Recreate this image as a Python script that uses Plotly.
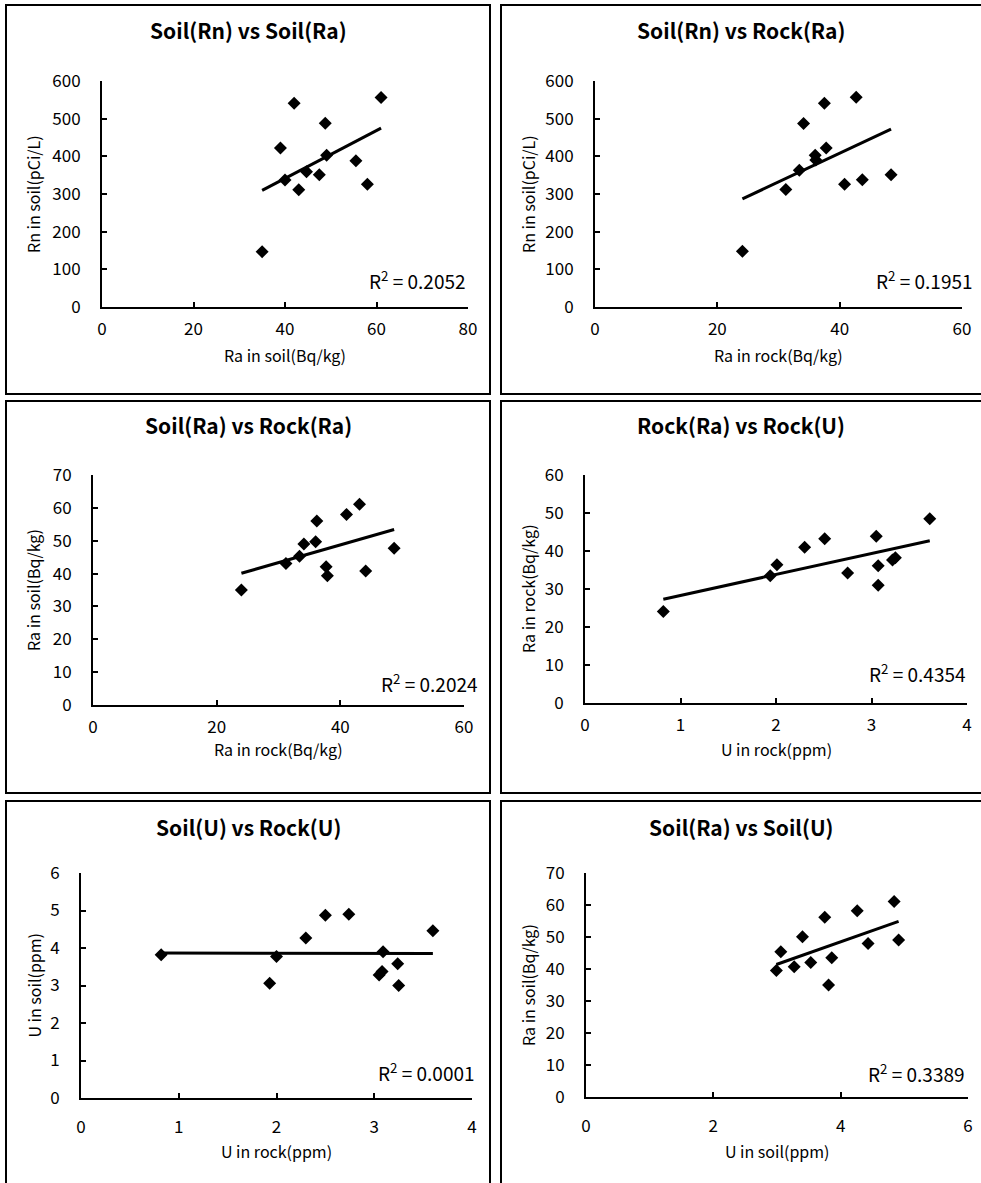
import numpy as np
import plotly.graph_objects as go

W, H = 981, 1183

# ---------------- data ----------------
p1_ra_soil = [35, 42, 39, 40, 43, 44.7, 47.5, 48.8, 49.1, 55.5, 58, 61]
p1_rn_soil = [147, 541, 422, 337, 311, 359, 351, 488, 403, 388, 326, 556]

p2_ra_rock = [24.1, 31.2, 33.4, 34.1, 36.0, 36.1, 37.5, 37.8, 40.8, 42.7, 43.7, 48.4]
p2_rn_soil = [148, 312, 363, 487, 403, 390, 541, 422, 326, 557, 338, 351]

p3_ra_rock = [24, 31.2, 33.4, 34.1, 36.0, 36.2, 37.7, 37.9, 41.0, 43.1, 44.1, 48.7]
p3_ra_soil = [35, 43.1, 45.3, 49.0, 49.7, 56.0, 42.1, 39.3, 58.0, 61.1, 40.8, 47.7]

p4_u_rock = [0.82, 1.94, 2.01, 2.30, 2.51, 2.75, 3.05, 3.07, 3.07, 3.22, 3.25, 3.61]
p4_ra_rock = [24.1, 33.5, 36.4, 41.0, 43.2, 34.2, 43.9, 36.1, 31.0, 37.6, 38.2, 48.5]

p5_u_rock = [0.82, 1.93, 2.00, 2.30, 2.50, 2.74, 3.05, 3.08, 3.09, 3.24, 3.25, 3.60]
p5_u_soil = [3.82, 3.06, 3.77, 4.27, 4.87, 4.90, 3.28, 3.37, 3.90, 3.58, 3.00, 4.46]

p6_u_soil = [2.99, 3.06, 3.27, 3.40, 3.53, 3.75, 3.81, 3.86, 4.26, 4.43, 4.84, 4.91]
p6_ra_soil = [39.5, 45.4, 40.7, 50.1, 42.0, 56.2, 35.0, 43.5, 58.2, 48.0, 61.1, 49.1]

titles = ["Soil(Rn) vs Soil(Ra)", "Soil(Rn) vs Rock(Ra)", "Soil(Ra) vs Rock(Ra)",
          "Rock(Ra) vs Rock(U)", "Soil(U) vs Rock(U)", "Soil(Ra) vs Soil(U)"]
x_titles = ["Ra in soil(Bq/kg)", "Ra in rock(Bq/kg)", "Ra in rock(Bq/kg)",
            "U in rock(ppm)", "U in rock(ppm)", "U in soil(ppm)"]
y_titles = ["Rn in soil(pCi/L)", "Rn in soil(pCi/L)", "Ra in soil(Bq/kg)",
            "Ra in rock(Bq/kg)", "U in soil(ppm)", "Ra in soil(Bq/kg)"]
r2_labels = ["0.2052", "0.1951", "0.2024", "0.4354", "0.0001", "0.3389"]
x_ranges = [(0, 80, 20), (0, 60, 20), (0, 60, 20), (0, 4, 1), (0, 4, 1), (0, 6, 2)]
y_ranges = [(0, 600, 100), (0, 600, 100), (0, 70, 10), (0, 60, 10), (0, 6, 1), (0, 70, 10)]

series = [(p1_ra_soil, p1_rn_soil), (p2_ra_rock, p2_rn_soil), (p3_ra_rock, p3_ra_soil),
          (p4_u_rock, p4_ra_rock), (p5_u_rock, p5_u_soil), (p6_u_soil, p6_ra_soil)]

# ---------------- layout geometry (pixels) ----------------
# plot areas: x0, x1, ytop, ybottom
areas = [(102, 468, 81, 307), (595, 962, 81, 307),
         (93, 464, 475, 705), (585, 967, 475, 703),
         (81, 472, 873, 1098), (586, 968, 873, 1097)]
boxes_x = [(6, 490), (501, 990)]
boxes_y = [(5, 394), (401, 793), (801, 1195)]
title_y = [30, 425, 827]
xtitle_y = [355, 749, 1151]
xtick_standoff = [6, 6, 13]
ytitle_x = [33, 528]
r2_pos = [(468, 280), (975, 280), (480, 683), (968, 673), (477, 1072), (967, 1073)]

FONT = "Noto Sans CJK KR"

def px(x):
    return x / W

def py(y):
    return 1 - y / H

fig = go.Figure()

for i in range(6):
    ax = "" if i == 0 else str(i + 1)
    xs, ys = series[i]
    fig.add_trace(go.Scatter(x=xs, y=ys, mode="markers",
                             marker=dict(symbol="diamond", size=10, color="black"),
                             xaxis="x" + ax, yaxis="y" + ax, showlegend=False))
    slope, inter = np.polyfit(xs, ys, 1)
    lx = [min(xs), max(xs)]
    ly = [slope * v + inter for v in lx]
    fig.add_trace(go.Scatter(x=lx, y=ly, mode="lines",
                             line=dict(color="black", width=3),
                             xaxis="x" + ax, yaxis="y" + ax, showlegend=False))
    x0, x1, yt, yb = areas[i]
    xr, yr = x_ranges[i], y_ranges[i]
    row = i // 2
    fig.layout["xaxis" + ax] = dict(
        domain=[px(x0), px(x1)], range=[xr[0], xr[1]], dtick=xr[2], tick0=0,
        anchor="y" + ax, showline=True, linecolor="black", linewidth=2,
        ticks="inside", ticklen=5, tickwidth=1.5, tickcolor="black",
        showgrid=False, zeroline=False, fixedrange=True, automargin=False,
        ticklabelstandoff=xtick_standoff[row],
        tickfont=dict(family=FONT, size=17, color="black"))
    fig.layout["yaxis" + ax] = dict(
        domain=[py(yb), py(yt)], range=[yr[0], yr[1]], dtick=yr[2], tick0=0,
        anchor="x" + ax, showline=True, linecolor="black", linewidth=2,
        ticks="inside", ticklen=5, tickwidth=1.5, tickcolor="black",
        showgrid=False, zeroline=False, fixedrange=True, automargin=False,
        ticklabelstandoff=16,
        tickfont=dict(family=FONT, size=17, color="black"))

    col = i % 2
    bx0, bx1 = boxes_x[col]
    by0, by1 = boxes_y[row]
    fig.add_shape(type="rect", xref="paper", yref="paper",
                  x0=px(bx0), x1=px(bx1), y0=py(by1), y1=py(by0),
                  line=dict(color="black", width=2))
    fig.add_annotation(text="<b>" + titles[i] + "</b>", xref="paper", yref="paper",
                       x=px((bx0 + min(bx1, W)) / 2), y=py(title_y[row]),
                       showarrow=False, xanchor="center", yanchor="middle",
                       font=dict(family=FONT, size=21, color="black"))
    fig.add_annotation(text=x_titles[i], xref="paper", yref="paper",
                       x=px((x0 + x1) / 2), y=py(xtitle_y[row]),
                       showarrow=False, xanchor="center", yanchor="middle",
                       font=dict(family=FONT, size=16, color="black"))
    fig.add_annotation(text=y_titles[i], xref="paper", yref="paper", textangle=-90,
                       x=px(ytitle_x[col]), y=py((yt + yb) / 2),
                       showarrow=False, xanchor="center", yanchor="middle",
                       font=dict(family=FONT, size=16, color="black"))
    rx, ry = r2_pos[i]
    fig.add_annotation(text="R<sup>2</sup> = " + r2_labels[i], xref="paper", yref="paper",
                       x=px(rx), y=py(ry), showarrow=False,
                       xanchor="right", yanchor="middle",
                       font=dict(family=FONT, size=19, color="black"))

fig.update_layout(width=W, height=H, margin=dict(l=0, r=0, t=0, b=0, autoexpand=False),
                  paper_bgcolor="white", plot_bgcolor="white",
                  font=dict(family=FONT, color="black"))

fig.write_html("out.html",
               config={"displayModeBar": False},
               post_script="document.body.style.margin='0';"
                           "document.body.style.overflow='hidden';")
